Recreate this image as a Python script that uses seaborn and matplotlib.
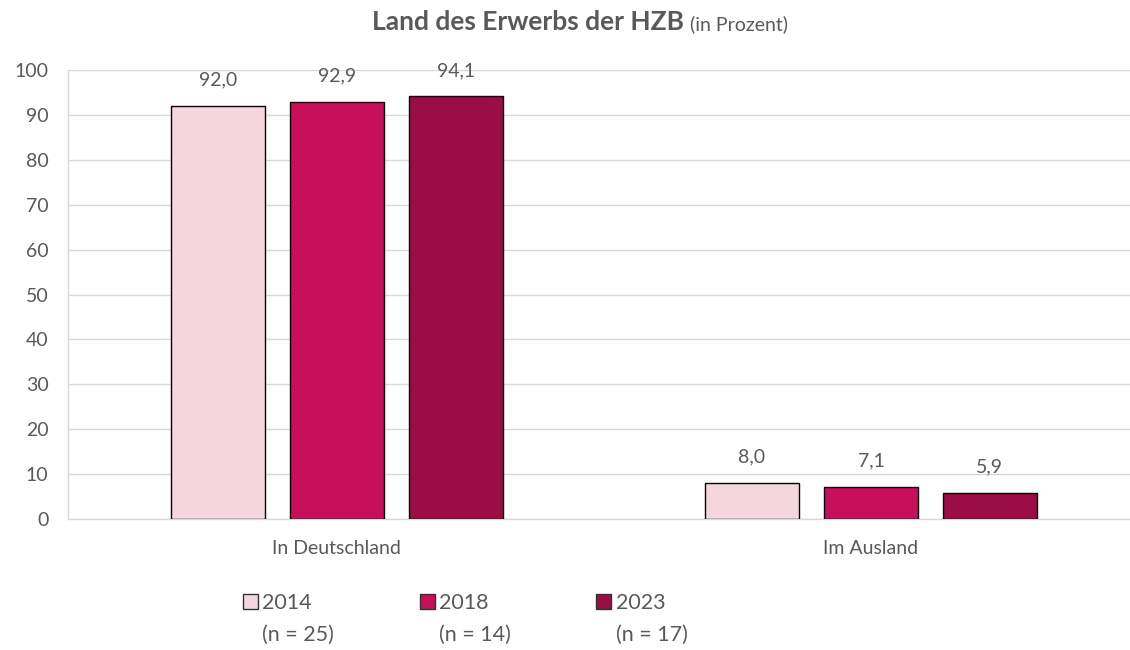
import pandas as pd
import matplotlib.pyplot as plt
import seaborn as sns

# Data
categories = ['In Deutschland', 'Im Ausland']
years = ['2014', '2018', '2023']
sample_sizes = ['(n = 25)', '(n = 14)', '(n = 17)']
values_2014 = [92.0, 8.0]
values_2018 = [92.9, 7.1]
values_2023 = [94.1, 5.9]
colors = ['#F4D7DE', '#C8105A', '#9B0D45']

df = pd.DataFrame({
    'Land': categories * 3,
    'Jahr': [y for y in years for _ in categories],
    'Prozent': values_2014 + values_2018 + values_2023,
})

sns.set_theme(style='white')
plt.rcParams['font.family'] = ['Lato', 'DejaVu Sans']
grey = '#595959'

fig = plt.figure(figsize=(11.3, 6.5), dpi=100)
ax = fig.add_axes([68 / 1130, 0.2015, 1070 / 1130, 0.6908])

sns.barplot(data=df, x='Land', y='Prozent', hue='Jahr', palette=colors,
            saturation=1, width=0.668, gap=0.21, edgecolor='black', linewidth=1,
            legend=False, ax=ax, zorder=3)

for cont in ax.containers:
    labels = [f"{v:.1f}".replace('.', ',') for v in cont.datavalues]
    ax.bar_label(cont, labels=labels, padding=12.5, fontsize=14, color=grey)

ax.set_xlim(-0.5035, 1.5)
ax.set_ylim(0, 100)
ax.set_yticks(range(0, 101, 10))
ax.yaxis.grid(True, color='#D9D9D9', linewidth=1, zorder=0)
ax.set_xlabel('')
ax.set_ylabel('')
ax.tick_params(axis='both', length=0, colors=grey)
ax.tick_params(axis='y', pad=14, labelsize=14)
ax.tick_params(axis='x', pad=15, labelsize=14)
for s in ['top', 'right']:
    ax.spines[s].set_visible(False)
for s in ['left', 'bottom']:
    ax.spines[s].set_color('#D9D9D9')
    ax.spines[s].set_linewidth(1)

# Title: bold part plus smaller note
fig.text(684 / 1130, 1 - 22 / 650, 'Land des Erwerbs der HZB', ha='right', va='center',
         fontsize=19, fontweight='bold', color=grey)
fig.text(690 / 1130, 1 - 24 / 650, '(in Prozent)', ha='left', va='center',
         fontsize=14, color=grey)

# Legend
handles = [plt.Rectangle((0, 0), 1, 1, facecolor=c, edgecolor='#333333', linewidth=1)
           for c in colors]
leg = fig.legend(handles, years, loc='center left', bbox_to_anchor=(243 / 1130, 1 - 603 / 650),
                 ncol=3, frameon=False, fontsize=15.5, handlelength=0.7, handleheight=0.7,
                 handletextpad=0.2, columnspacing=5.0, borderpad=0, borderaxespad=0)
for t in leg.get_texts():
    t.set_color(grey)

fig.canvas.draw()
renderer = fig.canvas.get_renderer()
inv = fig.transFigure.inverted()
for t, n in zip(leg.get_texts(), sample_sizes):
    bb = t.get_window_extent(renderer)
    x0 = inv.transform((bb.x0, 0))[0]
    fig.text(x0, 1 - 635 / 650, n, ha='left', va='center', fontsize=15.5, color=grey)

fig.savefig('out.png', dpi=100)
